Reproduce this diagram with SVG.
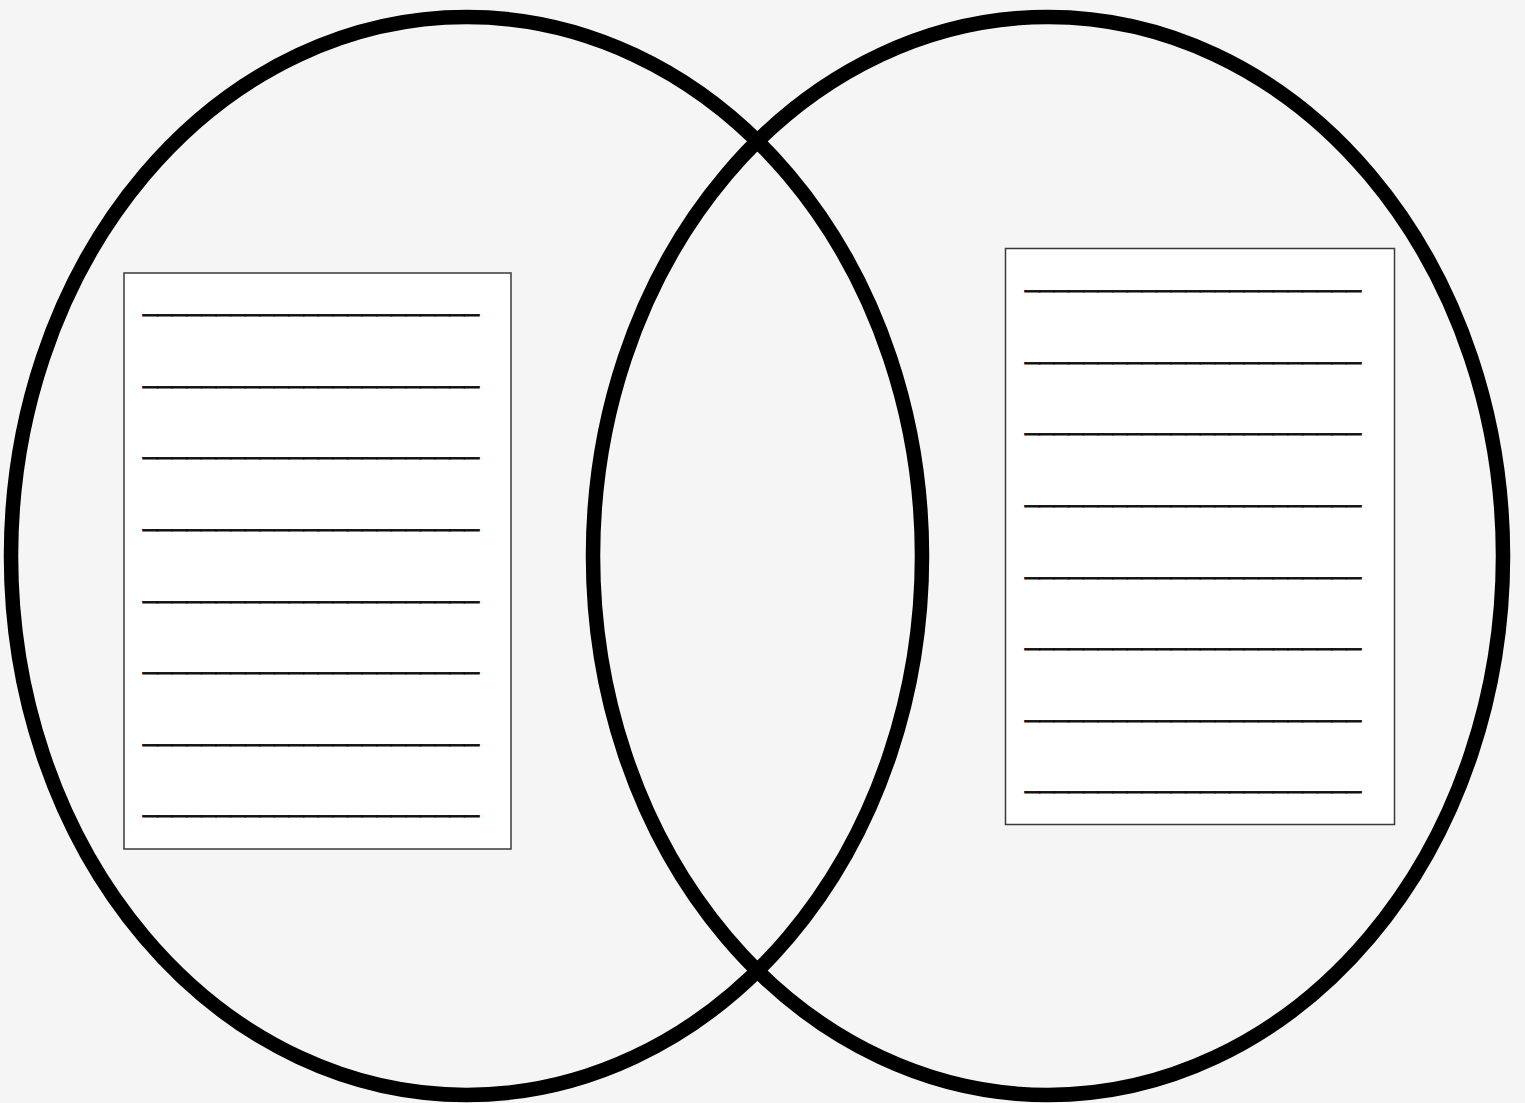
<svg xmlns="http://www.w3.org/2000/svg" width="1525" height="1103" viewBox="0 0 1525 1103">
<style>
.ring{fill:none;stroke:#000;stroke-width:14.5}
.box{fill:#fff;stroke:#3a3a3a;stroke-width:1.5}
.ln{font-family:"Liberation Sans",Arial,sans-serif;font-size:26px;fill:#111;stroke:#111;stroke-width:0.8}
</style>
<rect x="0" y="0" width="1525" height="1103" fill="#f5f5f5"/>
<g id="left-circle"><ellipse class="ring" cx="466.5" cy="556" rx="455.5" ry="539"/></g>
<g id="right-circle"><ellipse class="ring" cx="1048" cy="556" rx="455" ry="539"/></g>
<g id="left-box">
<rect class="box" x="124" y="273" width="387" height="576"/>
<text class="ln" x="143" y="311.1" textLength="336" lengthAdjust="spacingAndGlyphs">_______________________</text>
<text class="ln" x="143" y="382.7" textLength="336" lengthAdjust="spacingAndGlyphs">_______________________</text>
<text class="ln" x="143" y="454.3" textLength="336" lengthAdjust="spacingAndGlyphs">_______________________</text>
<text class="ln" x="143" y="525.9" textLength="336" lengthAdjust="spacingAndGlyphs">_______________________</text>
<text class="ln" x="143" y="597.5" textLength="336" lengthAdjust="spacingAndGlyphs">_______________________</text>
<text class="ln" x="143" y="669.1" textLength="336" lengthAdjust="spacingAndGlyphs">_______________________</text>
<text class="ln" x="143" y="740.7" textLength="336" lengthAdjust="spacingAndGlyphs">_______________________</text>
<text class="ln" x="143" y="812.3" textLength="336" lengthAdjust="spacingAndGlyphs">_______________________</text>
</g>
<g id="right-box">
<rect class="box" x="1005.5" y="248.5" width="389" height="576"/>
<text class="ln" x="1025" y="287.1" textLength="336" lengthAdjust="spacingAndGlyphs">_______________________</text>
<text class="ln" x="1025" y="358.7" textLength="336" lengthAdjust="spacingAndGlyphs">_______________________</text>
<text class="ln" x="1025" y="430.3" textLength="336" lengthAdjust="spacingAndGlyphs">_______________________</text>
<text class="ln" x="1025" y="501.9" textLength="336" lengthAdjust="spacingAndGlyphs">_______________________</text>
<text class="ln" x="1025" y="573.5" textLength="336" lengthAdjust="spacingAndGlyphs">_______________________</text>
<text class="ln" x="1025" y="645.1" textLength="336" lengthAdjust="spacingAndGlyphs">_______________________</text>
<text class="ln" x="1025" y="716.7" textLength="336" lengthAdjust="spacingAndGlyphs">_______________________</text>
<text class="ln" x="1025" y="788.3" textLength="336" lengthAdjust="spacingAndGlyphs">_______________________</text>
</g>
<g id="connectors"></g>
</svg>
